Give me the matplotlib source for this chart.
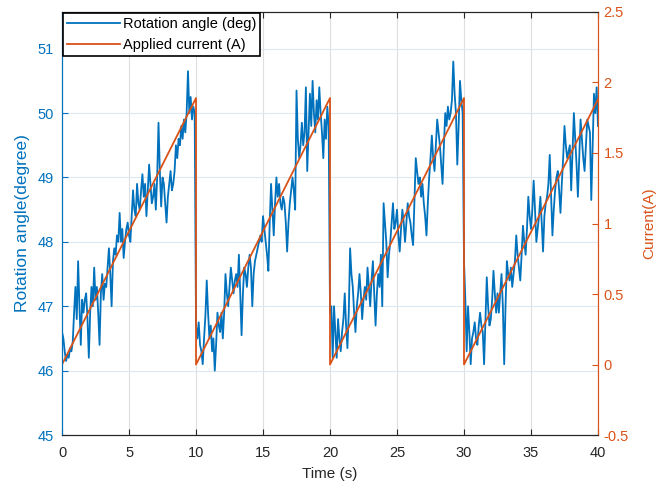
import numpy as np
import matplotlib.pyplot as plt

plt.rcParams['font.family'] = ['Liberation Sans', 'DejaVu Sans']

# rotation angle (deg), sampled every 0.1 s
seg1 = [46.6, 46.5, 46.3, 46.15, 46.25, 46.2, 46.35, 46.3, 46.45, 46.9,
        47.3, 46.8, 47.7, 47.0, 46.4, 47.1, 46.9, 47.1, 47.2, 46.8,
        46.2, 46.9, 47.3, 47.0, 47.6, 47.1, 47.3, 46.9, 46.4, 47.2,
        47.5, 47.1, 47.35, 47.3, 47.6, 47.9, 47.5, 47.0, 47.7, 47.9,
        47.8, 48.1, 48.0, 48.45, 48.0, 48.2, 47.75, 48.0, 48.2, 48.3,
        48.1, 48.0, 48.4, 48.8, 48.5, 48.4, 48.9, 48.6, 48.5, 48.8,
        49.05, 48.7, 48.9, 48.4, 48.8, 49.2, 48.9, 48.6, 48.7, 48.9,
        48.5, 49.0, 49.85, 49.1, 48.55, 49.0, 48.9, 48.6, 48.3, 48.7,
        48.9, 49.1, 48.8, 48.9, 49.1, 49.5, 49.3, 49.6, 49.5, 49.8,
        49.6, 49.9, 49.7, 50.0, 50.65, 50.0, 50.25, 49.9, 50.1, 50.0]
seg2 = [46.7, 46.5, 46.75, 46.4, 46.3, 46.1, 46.5, 46.85, 47.4, 46.9,
        46.5, 46.7, 46.3, 46.5, 46.0, 46.4, 46.9, 46.7, 46.6, 46.9,
        46.5, 46.9, 47.5, 47.2, 47.0, 47.3, 47.6, 47.4, 47.2, 47.4,
        47.5, 47.3, 47.8, 47.2, 46.55, 47.2, 47.6, 47.5, 47.3, 47.6,
        47.8, 47.6, 47.0, 47.5, 47.7, 47.8, 47.9, 48.0, 48.1, 48.0,
        48.4, 48.2, 48.0, 47.8, 47.55, 48.3, 48.9, 48.5, 48.1, 48.6,
        49.0, 48.7, 48.9, 48.6, 48.5, 48.7, 48.6, 48.3, 47.85, 48.3,
        48.6, 48.8, 49.0, 48.8, 48.5, 50.35, 49.6, 49.3, 49.5, 49.85,
        49.5, 49.7, 50.4, 49.1, 49.7, 50.3, 49.8, 50.5, 50.0, 49.7,
        50.2, 49.9, 50.4, 50.0, 49.7, 49.3, 49.9, 49.6, 50.1, 49.8]
seg3 = [46.9, 47.0, 46.2, 47.0, 46.6, 46.2, 46.8, 46.5, 46.3, 46.6,
        46.8, 47.2, 46.7, 46.35, 46.9, 47.9, 47.5, 47.3, 46.9, 46.6,
        47.0, 47.2, 47.5, 47.2, 46.8, 47.1, 47.3, 47.1, 47.6, 47.3,
        47.0, 47.4, 47.7, 47.2, 46.7, 47.2, 47.5, 47.3, 47.8, 47.0,
        48.6, 48.3, 48.0, 47.45, 47.8, 48.0, 48.3, 48.6, 48.2, 48.3,
        48.5, 48.1, 47.85, 48.2, 48.5, 48.3, 48.0, 48.3, 48.6, 48.4,
        48.3, 48.1, 47.95, 48.6, 49.3, 49.1, 48.9, 49.0, 48.7, 48.9,
        48.6, 48.4, 48.1, 48.6, 49.0, 49.3, 49.65, 49.3, 49.1, 49.5,
        49.9, 49.7, 49.5, 49.2, 48.9, 49.5, 50.0, 49.8, 50.1, 49.9,
        50.0, 50.2, 50.8, 50.3, 50.0, 49.2, 49.8, 50.5, 50.2, 50.0]
seg4 = [47.7, 47.1, 46.3, 47.0, 46.6, 46.1, 46.5, 46.6, 46.75, 46.5,
        46.4, 46.7, 46.9, 46.7, 46.6, 46.1, 46.8, 47.45, 47.0, 46.7,
        46.8, 47.1, 47.55, 47.2, 46.9, 47.2, 46.9, 47.2, 47.5, 47.0,
        46.1, 47.0, 47.7, 47.5, 47.4, 47.6, 47.3, 47.5, 47.7, 48.1,
        47.8, 47.6, 47.4, 47.8, 48.25, 48.0, 47.8, 48.2, 48.7, 48.4,
        48.2, 48.5, 48.95, 48.5, 48.0, 48.2, 48.4, 48.7, 48.3, 47.85,
        48.4, 48.6, 48.7, 48.9, 49.35, 48.7, 48.1, 48.5, 48.8, 49.0,
        49.1, 48.8, 48.45, 48.9, 49.3, 49.8, 49.5, 49.3, 49.4, 49.5,
        48.8, 49.4, 50.0, 49.6, 49.2, 48.7, 49.3, 49.9, 49.6, 49.3,
        49.1, 49.5, 49.9, 49.8, 49.7, 48.65, 49.5, 50.3, 50.0, 50.4, 49.8]
angle = np.array(seg1 + seg2 + seg3 + seg4)
time = np.linspace(0, 40, len(angle))

current_t = [0, 10, 10, 20, 20, 30, 30, 40]
current_a = [0, 1.89, 0, 1.89, 0, 1.89, 0, 1.88]

blue = '#0072BD'
orange = '#D95319'
dark = '#262626'

fig = plt.figure(figsize=(6.62, 4.93), dpi=100)
ax1 = fig.add_axes([0.0937, 0.1176, 0.8096, 0.8581])
ax2 = ax1.twinx()

l1, = ax1.plot(time, angle, color=blue, lw=1.3, label='Rotation angle (deg)')
l2, = ax2.plot(current_t, current_a, color=orange, lw=1.3, label='Applied current (A)')

ax1.set_xlim(0, 40)
ax1.set_ylim(45, 51.57)
ax2.set_ylim(-0.5, 2.5)
ax1.set_xticks(np.arange(0, 41, 5))
ax1.set_yticks(np.arange(45, 52, 1))
ax2.set_yticks(np.arange(-0.5, 2.51, 0.5))
ax2.set_yticklabels(['-0.5', '0', '0.5', '1', '1.5', '2', '2.5'])

ax1.grid(axis='y', color='#dce9f3', lw=0.8)
ax1.grid(axis='x', color='#dedede', lw=0.8)
ax1.set_axisbelow(True)

ax1.tick_params(axis='x', direction='in', top=True, colors=dark, labelsize=10.5, length=4, pad=8)
ax1.tick_params(axis='y', direction='in', colors=blue, labelsize=10.5, length=4, pad=6)
ax2.tick_params(axis='y', direction='in', colors=orange, labelsize=10.5, length=4, pad=4)

for ax in (ax1, ax2):
    ax.spines['top'].set_color(dark)
    ax.spines['bottom'].set_color(dark)
    ax.spines['left'].set_color(blue)
    ax.spines['right'].set_color(orange)

ax1.set_xlabel('Time (s)', fontsize=11, color=dark, labelpad=5)
ax1.set_ylabel('Rotation angle(degree)', fontsize=12.5, color=blue, labelpad=5)
ax2.set_ylabel('Current(A)', fontsize=11, color=orange, labelpad=10)

leg = ax2.legend(handles=[l1, l2], loc='upper left', fontsize=10.5, handlelength=3.6,
                 fancybox=False, framealpha=1, edgecolor='black',
                 borderpad=0.3, labelspacing=0.45, handletextpad=0.2,
                 borderaxespad=0.05)
leg.get_frame().set_linewidth(1.2)

fig.savefig('out.png', dpi=100)
